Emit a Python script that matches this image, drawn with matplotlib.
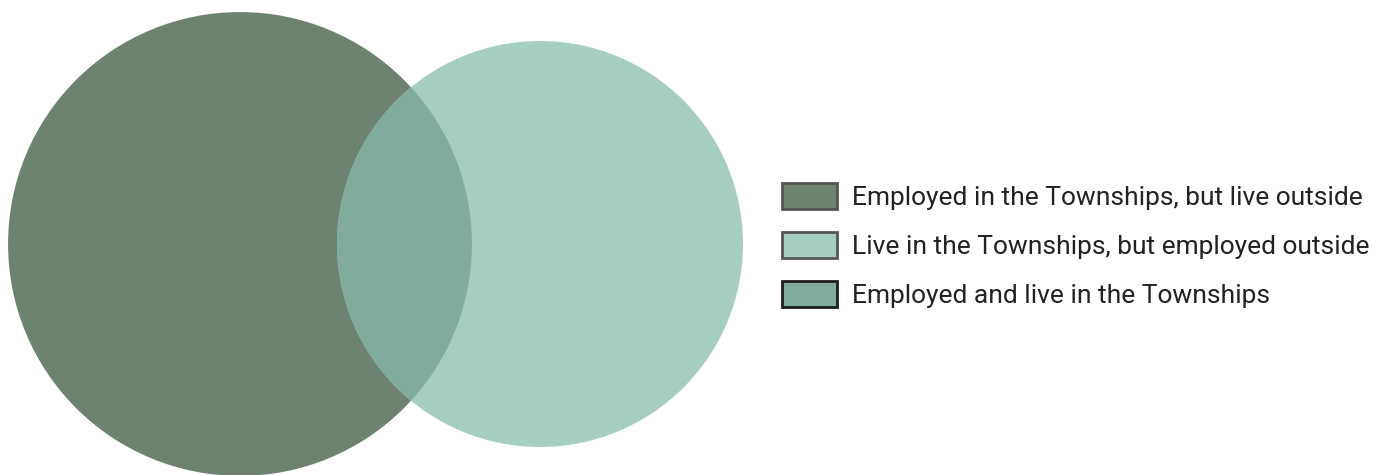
import matplotlib.pyplot as plt
from matplotlib.patches import Circle, Patch
import numpy as np

plt.rcParams['font.family'] = ['Roboto', 'DejaVu Sans']

# Venn data (relative set sizes)
labels = ["Employed in the Townships, but live outside",
          "Live in the Townships, but employed outside",
          "Employed and live in the Townships"]
set_sizes = [53800, 41200]          # people employed in / living in the townships
colors = ["#6e8270", "#a5cdc2", "#80ac9e"]
edge_colors = ["#555555", "#555555", "#1e1e1e"]

fig = plt.figure(figsize=(13.91, 4.75), dpi=100)
ax = fig.add_axes([0, 0, 1, 1])
ax.set_xlim(0, 1391)
ax.set_ylim(475, 0)
ax.set_aspect('equal')
ax.axis('off')

# circle radii from set sizes (area proportional)
radii = np.sqrt(np.array(set_sizes))
c1 = (240, 244)
c2 = (c1[0] + 300, 244)

circ1 = Circle(c1, radii[0], facecolor=colors[0], edgecolor='none')
circ2 = Circle(c2, radii[1], facecolor=colors[1], edgecolor='none')
ax.add_patch(circ1)
ax.add_patch(circ2)

# overlap region
overlap = Circle(c2, radii[1], facecolor=colors[2], edgecolor='none')
ax.add_patch(overlap)
overlap.set_clip_path(circ1)

handles = [Patch(facecolor=colors[i], edgecolor=edge_colors[i], linewidth=2, label=labels[i])
           for i in range(3)]
leg = ax.legend(handles=handles, loc='center left', bbox_to_anchor=(782 / 1391, 1 - 245.5 / 475),
                frameon=False, fontsize=19, handlelength=2.08, handleheight=1.15,
                labelspacing=0.84, handletextpad=0.58, borderpad=0, borderaxespad=0)
for t in leg.get_texts():
    t.set_color("#222222")

plt.savefig("out.png", dpi=100)
plt.close()
